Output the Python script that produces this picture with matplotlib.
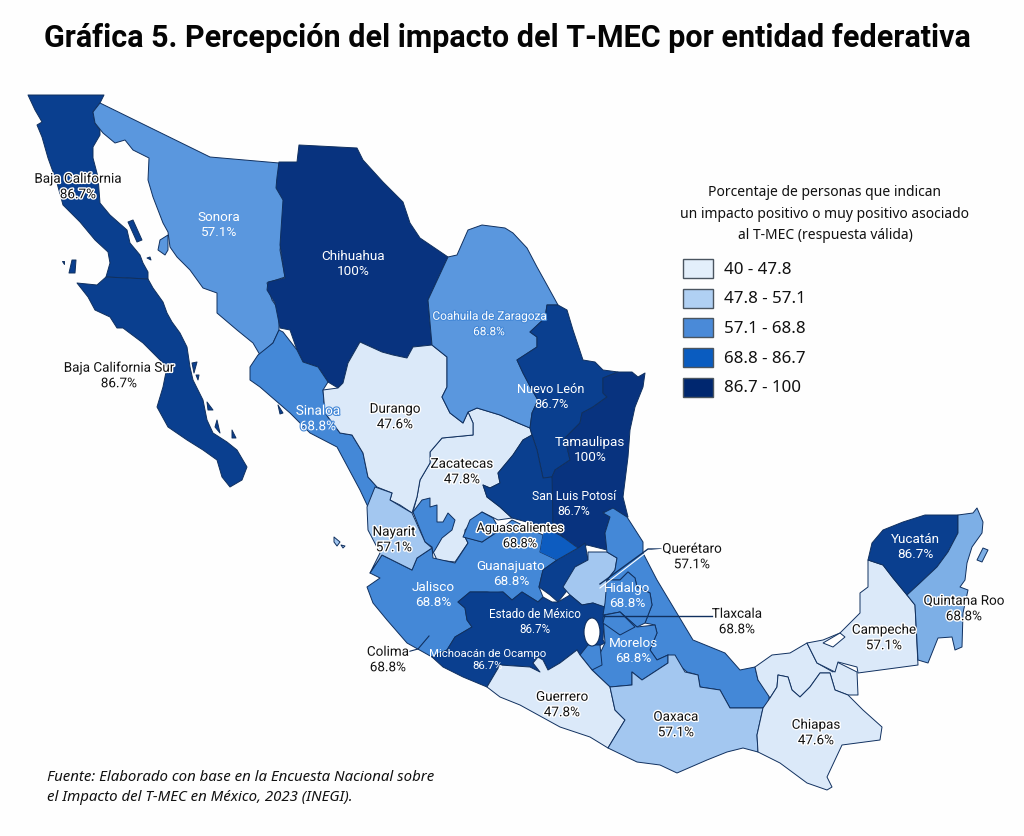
import matplotlib
matplotlib.use("Agg")
import matplotlib.pyplot as plt
import matplotlib.patheffects as pe
from matplotlib.patches import Ellipse, Rectangle

plt.rcParams['font.family'] = ['Noto Sans', 'DejaVu Sans']

# etiquetas y valores
state_names = ["Baja California", "Baja California Sur", "Sonora", "Chihuahua", "Coahuila de Zaragoza",
               "Nuevo León", "Sinaloa", "Durango", "Tamaulipas", "Zacatecas", "San Luis Potosí", "Nayarit",
               "Aguascalientes", "Guanajuato", "Querétaro", "Jalisco", "Hidalgo", "Estado de México", "Tlaxcala",
               "Colima", "Michoacán de Ocampo", "Morelos", "Guerrero", "Oaxaca", "Chiapas", "Campeche",
               "Quintana Roo", "Yucatán"]
state_values = [86.7, 86.7, 57.1, 100, 68.8, 86.7, 68.8, 47.6, 100, 47.8, 86.7, 57.1, 68.8, 68.8, 57.1, 68.8,
                68.8, 86.7, 68.8, 68.8, 86.7, 68.8, 47.8, 57.1, 47.6, 57.1, 68.8, 86.7]

legend_labels = ["40 - 47.8", "47.8 - 57.1", "57.1 - 68.8", "68.8 - 86.7", "86.7 - 100"]
legend_colors = ["#e3effb", "#b0d0f3", "#4a8ad8", "#0a5cc0", "#00276f"]

# tonos tal como aparecen en el mapa
tones = {"pale": "#dbe9f9", "light": "#a3c7f0", "sky": "#7dafe6", "mid": "#5a97de", "mid2": "#4488d7",
         "bright": "#0d5cc0", "navy": "#0a3f8f", "dark": "#08337f"}

# contornos en pixeles de la imagen
outlines = {
    "Zacatecas": ("pale", [(468,412),(477,408),(500,415),(518,423),(530,428),(532,435),(523,440),(513,455),(498,473),(500,483),(490,488),(483,485),(487,497),(500,507),(512,518),(498,520),(482,512),(465,530),(465,537),(468,543),(455,562),(437,560),(430,545),(413,512),(417,497),(420,480),(430,463),(430,452),(442,438),(473,435),(473,423)]),
    "Baja California": ("navy", [(28,95),(104,95),(100,103),(93,112),(95,123),(100,130),(100,135),(93,147),(93,158),(98,177),(100,203),(110,215),(127,230),(130,243),(140,255),(143,263),(148,272),(148,279),(106,277),(110,263),(108,252),(95,240),(80,222),(63,205),(57,183),(48,158),(42,137),(37,125),(42,122),(35,110)]),
    "Baja California Sur": ("navy", [(106,277),(148,279),(153,288),(163,302),(167,313),(172,322),(180,333),(187,347),(190,367),(193,380),(203,400),(207,420),(213,433),(227,442),(237,450),(247,467),(242,480),(230,487),(222,477),(217,460),(203,450),(187,440),(168,427),(157,407),(163,387),(167,367),(160,360),(143,343),(123,328),(117,328),(110,317),(95,310),(88,297),(77,283),(97,285)]),
    "Sonora": ("mid", [(100,103),(210,157),(279,163),(279,177),(277,180),(278,188),(284,195),(284,223),(280,250),(285,277),(267,283),(272,300),(279,310),(279,330),(273,343),(260,355),(253,343),(237,330),(217,313),(217,293),(203,288),(190,270),(177,257),(170,247),(168,232),(163,223),(153,197),(148,180),(149,158),(133,150),(125,140),(115,143),(103,133),(95,123),(93,112)]),
    "Chihuahua": ("dark", [(279,162),(297,162),(299,145),(357,148),(363,160),(383,182),(403,202),(410,223),(420,238),(448,257),(428,300),(432,345),(413,347),(407,358),(393,355),(382,352),(360,342),(348,363),(343,383),(338,388),(328,382),(318,367),(303,362),(297,350),(290,330),(280,328),(275,303),(267,290),(268,282),(285,278),(280,245),(283,200),(276,188),(277,177)]),
    "Sinaloa": ("mid2", [(283,332),(297,350),(303,362),(318,367),(328,382),(323,390),(325,413),(340,433),(352,435),(363,453),(368,477),(377,487),(368,507),(360,490),(337,447),(310,433),(290,413),(260,387),(250,380),(250,367),(258,355),(273,343),(279,330)]),
    "Durango": ("pale", [(360,342),(382,352),(393,355),(407,358),(413,347),(432,345),(447,357),(447,373),(447,387),(442,397),(450,413),(463,423),(468,412),(473,423),(473,435),(442,438),(430,452),(430,463),(420,480),(417,497),(412,513),(400,505),(390,500),(392,493),(377,487),(368,477),(363,453),(352,435),(340,433),(325,413),(323,390),(338,388),(343,383),(348,363)]),
    "Coahuila de Zaragoza": ("mid", [(448,257),(457,255),(468,230),(482,225),(505,228),(513,233),(527,248),(537,267),(547,285),(558,305),(547,305),(545,318),(530,332),(537,337),(537,347),(517,360),(523,373),(532,390),(538,400),(532,413),(530,428),(518,423),(500,415),(477,408),(468,412),(463,423),(450,413),(442,397),(447,387),(447,357),(432,345),(428,300)]),
    "Nuevo León": ("navy", [(558,305),(567,310),(573,330),(583,360),(595,362),(603,370),(618,372),(603,378),(603,393),(607,397),(593,407),(582,413),(580,423),(565,438),(570,460),(555,470),(552,477),(543,478),(537,450),(532,435),(530,428),(532,413),(538,400),(532,390),(523,373),(517,360),(537,347),(537,337),(530,332),(545,318),(547,305)]),
    # Jalisco y Guanajuato no tienen linea visible entre ellos
    "Jalisco": ("mid2", [(370,573),(382,555),(412,570),(417,558),(432,548),(433,558),(455,563),(468,543),(465,537),(482,542),(500,530),(512,520),(543,535),(540,552),(557,560),(543,570),(539,587),(543,597),(538,602),(522,592),(512,600),(503,592),(493,593),(487,592),(470,592),(458,602),(465,608),(467,620),(472,627),(455,637),(447,650),(432,657),(407,643),(387,620),(373,603),(367,587),(380,578)]),
    "Jalisco norte": ("mid2", [(422,500),(430,498),(430,507),(437,505),(437,522),(443,522),(448,513),(455,520),(452,530),(442,538),(435,550),(433,553),(432,547),(425,542),(413,512)]),
    "Nayarit": ("light", [(375,487),(392,493),(390,500),(412,513),(425,542),(432,548),(417,558),(412,570),(382,555),(370,573),(380,553),(368,530),(367,507)]),
    "Aguascalientes": ("mid2", [(463,537),(470,520),(482,512),(493,518),(500,530),(482,542)]),
    "San Luis Potosí": ("navy", [(552,477),(543,478),(537,450),(532,435),(523,440),(513,455),(498,473),(500,483),(490,488),(483,485),(487,497),(500,507),(512,518),(545,527),(563,537),(553,523),(553,480)]),
    "Tamaulipas": ("dark", [(618,372),(632,372),(638,377),(645,373),(643,387),(635,407),(630,430),(628,457),(623,497),(628,517),(603,512),(610,517),(605,533),(607,550),(587,545),(578,548),(563,537),(553,523),(552,477),(555,470),(570,460),(565,438),(580,423),(582,413),(593,407),(607,397),(603,393),(603,378)]),
    "Queretaro sur": ("navy", [(585,543),(588,560),(575,567),(570,587),(558,602),(550,595),(539,587),(543,570),(557,560),(578,548)]),
    "Querétaro": ("light", [(563,587),(575,567),(588,560),(588,552),(607,552),(617,558),(615,570),(607,580),(608,607),(605,608),(593,603),(582,605),(570,595)]),
    "Michoacán de Ocampo": ("navy", [(458,602),(470,592),(487,592),(503,592),(512,600),(522,592),(538,602),(543,597),(552,602),(558,602),(570,595),(582,605),(593,603),(605,607),(603,640),(605,643),(580,655),(577,650),(560,663),(548,670),(543,660),(538,657),(533,663),(540,672),(530,667),(500,665),(487,687),(463,677),(443,667),(432,657),(447,650),(455,637),(472,627),(467,620),(465,608)]),
    "Veracruz": ("mid2", [(613,508),(627,517),(643,542),(643,553),(657,580),(675,610),(693,640),(725,653),(740,670),(755,667),(758,680),(770,693),(768,703),(763,708),(730,708),(720,690),(700,687),(698,675),(687,672),(668,655),(657,660),(650,650),(657,633),(655,625),(645,623),(652,605),(650,593),(637,587),(635,578),(628,572),(620,580),(607,580),(615,570),(617,558),(607,552),(605,533),(610,517),(603,513)]),
    "Hidalgo": ("mid2", [(620,580),(628,572),(635,578),(637,587),(650,593),(652,605),(645,623),(637,627),(620,612),(603,615),(605,603),(607,580)]),
    "Morelos": ("mid2", [(603,617),(620,612),(637,627),(655,625),(657,633),(650,650),(657,660),(668,655),(668,663),(642,680),(632,672),(632,685),(610,687),(592,670),(605,643)]),
    "Tlaxcala": ("mid2", [(605,615),(620,612),(635,627),(620,635),(603,623)]),
    "Sur del lago": ("mid2", [(580,655),(588,645),(600,645),(602,665),(592,670)]),
    "Guerrero": ("pale", [(487,687),(500,665),(530,667),(540,672),(533,663),(538,657),(543,660),(548,670),(560,663),(577,650),(580,655),(592,670),(610,687),(615,710),(625,720),(617,733),(608,748),(590,737),(560,727),(520,705),(500,697)]),
    "Oaxaca": ("light", [(668,655),(675,655),(685,672),(698,675),(700,687),(720,690),(730,708),(763,708),(757,735),(758,752),(743,748),(727,752),(707,760),(677,773),(660,765),(637,762),(608,748),(617,733),(625,720),(615,710),(610,687),(632,685),(632,672),(642,680),(668,663)]),
    "Tabasco": ("pale", [(755,667),(772,655),(790,653),(807,643),(817,663),(833,672),(837,662),(857,672),(858,695),(848,695),(835,690),(830,673),(820,673),(810,687),(800,697),(792,690),(788,677),(778,675),(777,687),(770,698),(758,680)]),
    "Chiapas": ("pale", [(763,708),(770,698),(777,687),(778,675),(788,677),(792,690),(800,697),(810,687),(820,673),(830,673),(835,690),(848,695),(863,710),(882,727),(880,740),(842,745),(827,777),(832,787),(827,790),(807,783),(780,763),(758,752),(757,735)]),
    "Campeche": ("pale", [(868,560),(883,565),(893,578),(907,595),(915,605),(918,665),(858,673),(857,667),(838,662),(835,672),(817,663),(807,643),(823,640),(840,633),(860,613),(860,593),(868,587)]),
    "Yucatán": ("navy", [(868,560),(872,543),(883,530),(903,522),(925,515),(958,515),(958,533),(948,552),(937,567),(920,583),(907,595),(893,578),(883,565)]),
    "Quintana Roo": ("sky", [(958,515),(973,513),(977,508),(983,522),(982,533),(972,547),(967,563),(965,580),(960,587),(968,590),(963,613),(962,647),(955,650),(952,637),(938,638),(928,663),(918,660),(915,605),(907,595),(920,583),(937,567),(948,552),(958,533)]),
    "Cozumel": ("sky", [(977,560),(983,548),(988,550),(982,562)]),
    "Tiburon": ("mid", [(160,240),(168,235),(168,250),(165,255),(158,250)]),
    "Cedros": ("navy", [(72,260),(76,260),(75,273),(69,273)]),
    "Angel de la Guarda": ("navy", [(128,222),(133,220),(142,240),(137,242)]),
    "Isla BCS 1": ("navy", [(192,363),(197,362),(194,373)]),
    "Isla BCS 2": ("navy", [(217,420),(220,433),(215,427)]),
    "Isla BCS 3": ("navy", [(232,430),(236,438),(232,438)]),
    "Isla BCS 4": ("navy", [(207,402),(213,410),(208,410)]),
    "Isla BCS 5": ("navy", [(196,375),(199,375),(198,380)]),
    "Isla BC 1": ("navy", [(62,261),(64,261),(64,264)]),
    "Isla BC 2": ("navy", [(147,258),(150,257),(151,260)]),
    "Marias 1": ("light", [(334,537),(340,542),(337,546),(334,542)]),
    "Marias 2": ("light", [(341,545),(345,546),(343,548)]),
    "Isla Sinaloa": ("navy", [(278,405),(283,413),(280,414)]),
}
# zona mas brillante junto a San Luis Potosi, sin borde
bright_patch = [(545,527),(563,537),(578,548),(557,560),(540,552),(543,535)]
lakes = [[(823,643),(840,633),(845,637),(833,647)]]

# posicion del centro de cada etiqueta, mismo orden que state_names
label_xy = [(78,187),(119,376),(219,225),(353,264),(489,324),(551,397),(318,419),(395,417),(590,450),(462,472),
            (574,504),(394,540),(520,536),(511,574),(692,557),(433,595),(627,596),(535,622),(737,622),(388,660),
            (488,660),(633,651),(562,705),(676,725),(816,733),(884,638),(964,609),(915,547)]
label_size = {"Michoacán de Ocampo": 8.2, "Estado de México": 8.4, "Coahuila de Zaragoza": 8.5,
              "San Luis Potosí": 8.8, "Aguascalientes": 9.2, "Nuevo León": 9.2}
white_text = {"Sonora", "Chihuahua", "Coahuila de Zaragoza", "Nuevo León", "Sinaloa", "Tamaulipas",
              "San Luis Potosí", "Guanajuato", "Jalisco", "Hidalgo", "Estado de México",
              "Michoacán de Ocampo", "Morelos", "Yucatán"}

fig = plt.figure(figsize=(10.24, 8.36), dpi=100, facecolor="#fefefe")
ax = fig.add_axes([0, 0, 1, 1])
ax.set_xlim(0, 1024)
ax.set_ylim(836, 0)
ax.axis("off")

edge = "#10305f"
for name, (tone, pts) in outlines.items():
    xs, ys = zip(*pts)
    ax.fill(xs, ys, facecolor=tones[tone], edgecolor=edge, linewidth=0.7, joinstyle="round")
    if name == "Jalisco":
        xs, ys = zip(*bright_patch)
        ax.fill(xs, ys, facecolor=tones["bright"], edgecolor="none")
for pts in lakes:
    xs, ys = zip(*pts)
    ax.fill(xs, ys, facecolor="white", edgecolor=edge, linewidth=0.7)
ax.add_patch(Ellipse((592, 632), 16, 28, facecolor="white", edgecolor=edge, linewidth=0.8))

# lineas guia
ax.plot([712, 604], [616, 616], color=edge, lw=1)
ax.plot([664, 648, 600], [549, 549, 584], color=edge, lw=1)
ax.plot([664, 648, 600], [549, 551, 588], color="white", lw=0.8)
ax.plot([407, 418, 429], [652, 649, 636], color=edge, lw=0.8)

for name, value, (x, y) in zip(state_names, state_values, label_xy):
    effects = []
    color = "#111111"
    if name in white_text:
        color = "white"
        if name in ("Sinaloa", "Coahuila de Zaragoza"):
            effects = [pe.withStroke(linewidth=1.6, foreground=tones["mid2"])]
    else:
        effects = [pe.withStroke(linewidth=2.0, foreground="white")]
    ax.text(x, y, f"{name}\n{value:g}%", ha="center", va="center", fontsize=label_size.get(name, 9.7), color=color,
            family=["Roboto", "DejaVu Sans"], linespacing=1.25, path_effects=effects)

# titulo
ax.text(507, 38, "Gráfica 5. Percepción del impacto del T-MEC por entidad federativa", ha="center", va="center",
        fontsize=22, fontweight="bold", color="#050505", family=["Roboto", "DejaVu Sans"])

# leyenda
ax.text(825, 214, "Porcentaje de personas que indican\nun impacto positivo o muy positivo asociado\nal T-MEC (respuesta válida)",
        ha="center", va="center", fontsize=10, color="#111111", linespacing=1.55)
for i, (lab, col) in enumerate(zip(legend_labels, legend_colors)):
    y = 259 + i * 29.7
    ax.add_patch(Rectangle((683, y), 30, 19, facecolor=col, edgecolor="#4a5560", linewidth=1))
    ax.text(724, y + 10.5, lab, ha="left", va="center", fontsize=12.2, color="#111111")

ax.text(47, 787.5, "Fuente: Elaborado con base en la Encuesta Nacional sobre\nel Impacto del T-MEC en México, 2023 (INEGI).",
        ha="left", va="center", fontsize=10.8, style="italic", color="#111111", linespacing=1.4)

fig.savefig("out.png", dpi=100, facecolor=fig.get_facecolor())
